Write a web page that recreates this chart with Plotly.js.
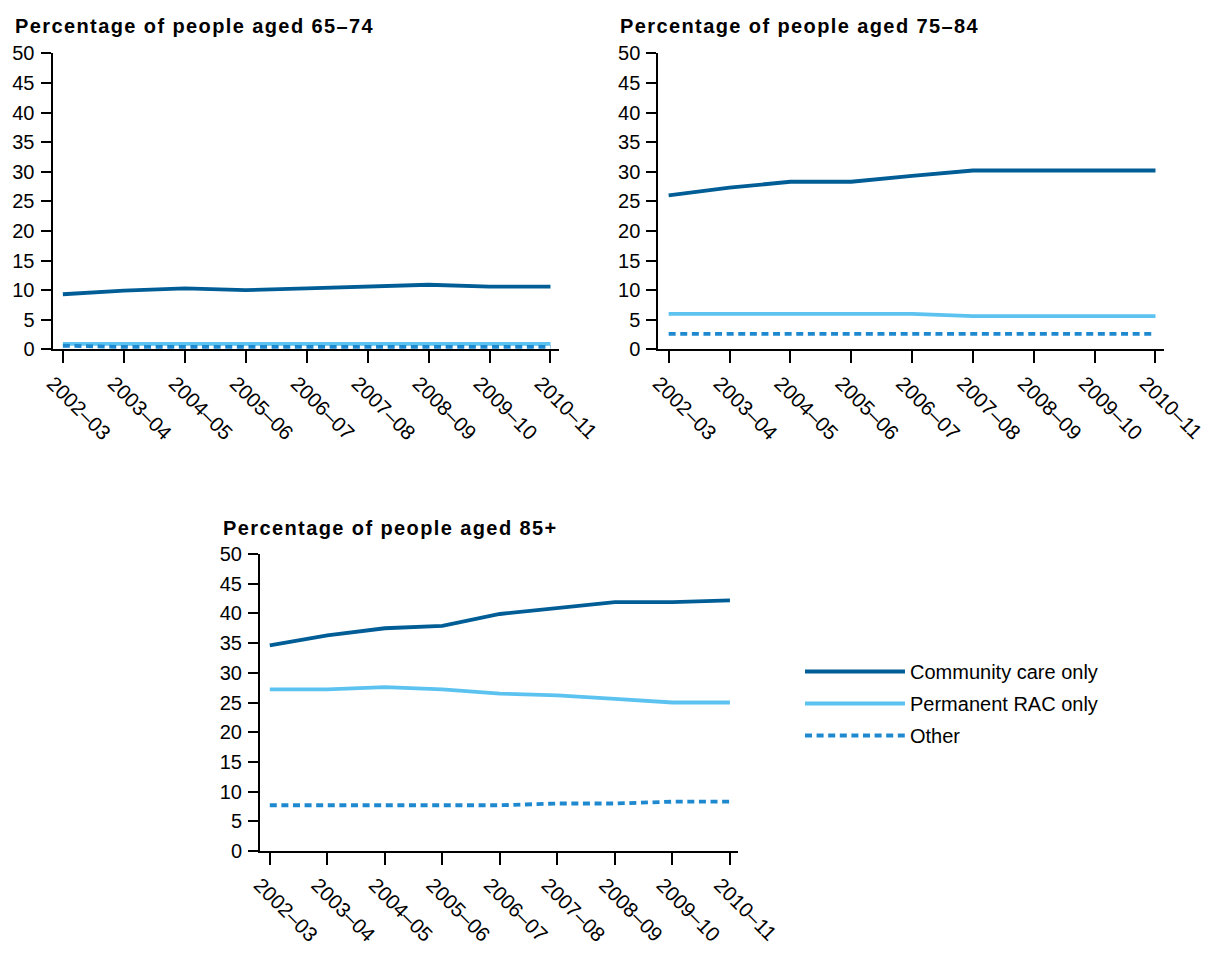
<!DOCTYPE html>
<html><head><meta charset="utf-8">
<script src="https://cdn.plot.ly/plotly-3.0.1.min.js"></script>
<style>
html,body{margin:0;padding:0;background:#fff;}
#chart{width:1208px;height:956px;}
.annotation-text{letter-spacing:1.4px;}
</style></head><body><div id="chart"></div>
<script>
const years = ['2002–03','2003–04','2004–05','2005–06','2006–07','2007–08','2008–09','2009–10','2010–11'];
const seriesNames = ['Community care only','Permanent RAC only','Other'];
const panelTitles = ['Percentage of people aged 65–74','Percentage of people aged 75–84','Percentage of people aged 85+'];
const yTicks = [0,5,10,15,20,25,30,35,40,45,50];

const community6574 = [9.3, 9.9, 10.3, 10.0, 10.3, 10.6, 10.9, 10.6, 10.6];
const permanent6574 = [0.9, 0.9, 0.9, 0.9, 0.9, 0.9, 0.9, 0.9, 0.9];
const other6574     = [0.6, 0.4, 0.4, 0.4, 0.4, 0.4, 0.4, 0.4, 0.4];

const community7584 = [26.0, 27.3, 28.3, 28.3, 29.3, 30.2, 30.2, 30.2, 30.2];
const permanent7584 = [6.0, 6.0, 6.0, 6.0, 6.0, 5.6, 5.6, 5.6, 5.6];
const other7584     = [2.6, 2.6, 2.6, 2.6, 2.6, 2.6, 2.6, 2.6, 2.6];

const community85 = [34.6, 36.3, 37.5, 37.9, 39.9, 40.9, 41.9, 41.9, 42.2];
const permanent85 = [27.2, 27.2, 27.6, 27.2, 26.5, 26.2, 25.6, 25.0, 25.0];
const other85     = [7.7, 7.7, 7.7, 7.7, 7.7, 8.0, 8.0, 8.3, 8.3];

const FONT = 'Liberation Sans, Arial, sans-serif';
const colors = ['#005d96', '#5cc3f0', '#1f89cf'];
const dashes = ['solid', 'solid', '7px,4.6px'];

const panels = [
  {data:[community6574, permanent6574, other6574], xa:'x', ya:'y', legend:false},
  {data:[community7584, permanent7584, other7584], xa:'x2', ya:'y2', legend:false},
  {data:[community85, permanent85, other85], xa:'x3', ya:'y3', legend:true}
];

const traces = [];
panels.forEach(p => {
  p.data.forEach((vals, i) => {
    traces.push({
      type:'scatter', mode:'lines', x: years, y: vals,
      xaxis: p.xa, yaxis: p.ya,
      name: seriesNames[i], legendgroup: 'g'+i, showlegend: p.legend,
      line: {color: colors[i], width: 3.8, dash: dashes[i]},
      hoverinfo: 'skip'
    });
  });
});

function xaxisDef(domain) {
  return {
    domain: domain, type:'category', range:[-0.17, 8.14],
    showgrid:false, zeroline:false, showline:true, linecolor:'#000', linewidth:2,
    ticks:'outside', ticklen:12, tickwidth:2, tickcolor:'#000',
    tickangle:45, tickfont:{family:FONT, size:20.5, color:'#000'},
    ticklabelshift:-10,
    fixedrange:true
  };
}
function yaxisDef(domain) {
  return {
    domain: domain, range:[0,50], tickvals: yTicks,
    showgrid:false, zeroline:false, showline:true, linecolor:'#000', linewidth:2,
    ticks:'outside', ticklen:10, tickwidth:2, tickcolor:'#000',
    tickfont:{family:FONT, size:20, color:'#000'},
    ticklabelstandoff:2,
    fixedrange:true
  };
}

const W = 1208, H = 956;
const layout = {
  width: W, height: H,
  margin:{l:0, r:0, t:0, b:0},
  paper_bgcolor:'#fff', plot_bgcolor:'rgba(0,0,0,0)',
  font:{family:FONT, color:'#000'},
  xaxis:  Object.assign(xaxisDef([52.5/W, 559/W]), {anchor:'y'}),
  yaxis:  Object.assign(yaxisDef([1-349.3/H, 1-53.3/H]), {anchor:'x'}),
  xaxis2: Object.assign(xaxisDef([658.3/W, 1164/W]), {anchor:'y2'}),
  yaxis2: Object.assign(yaxisDef([1-349.3/H, 1-53.3/H]), {anchor:'x2'}),
  xaxis3: Object.assign(xaxisDef([260/W, 738/W]), {anchor:'y3'}),
  yaxis3: Object.assign(yaxisDef([1-851/H, 1-554/H]), {anchor:'x3'}),
  showlegend: true,
  legend: {
    x: 800/W, y: 1-652/H, xanchor:'left', yanchor:'top',
    font:{family:FONT, size:20, color:'#000'},
    itemwidth: 100, tracegroupgap: 3, bgcolor:'rgba(0,0,0,0)',
    traceorder:'grouped'
  },
  annotations: [
    {text: panelTitles[0], x: 13/W, y: 1-25.8/H},
    {text: panelTitles[1], x: 618/W, y: 1-25.8/H},
    {text: panelTitles[2], x: 221/W, y: 1-527.5/H}
  ].map(a => Object.assign(a, {
    xref:'paper', yref:'paper', xanchor:'left', yanchor:'middle', showarrow:false,
    font:{family:FONT, size:20, color:'#000', weight:'bold'}
  }))
};

Plotly.newPlot('chart', traces, layout, {displayModeBar:false, staticPlot:true});
</script></body></html>
